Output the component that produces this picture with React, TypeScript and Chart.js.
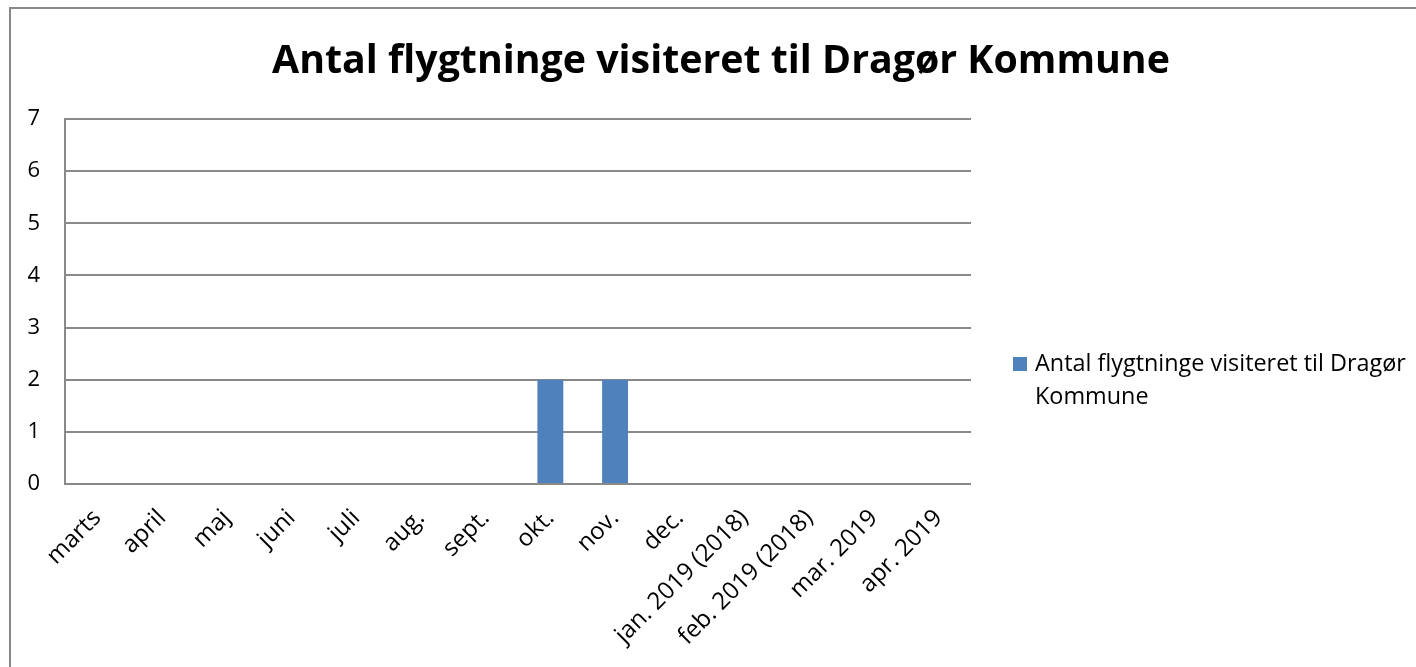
import React, { useEffect, useRef } from "react";
import { Chart, registerables } from "chart.js";

Chart.register(...registerables);

const title = "Antal flygtninge visiteret til Dragør Kommune";
const seriesName = "Antal flygtninge visiteret til Dragør Kommune";
const legendLines = ["Antal flygtninge visiteret til Dragør", "Kommune"];
const categories = [
  "marts", "april", "maj", "juni", "juli", "aug.", "sept.", "okt.", "nov.", "dec.",
  "jan. 2019 (2018)", "feb. 2019 (2018)", "mar. 2019", "apr. 2019",
];
const values = [0, 0, 0, 0, 0, 0, 0, 2, 2, 0, 0, 0, 0, 0];
const yTicks = [0, 1, 2, 3, 4, 5, 6, 7];

const BAR = "#4f81bd";
const GRID = "#898989";
const FONT = "'Open Sans', 'DejaVu Sans', sans-serif";

const decorPlugin = {
  id: "decor",
  beforeDraw(chart: any) {
    const ctx = chart.ctx;
    ctx.save();
    ctx.fillStyle = "#ffffff";
    ctx.fillRect(0, 0, chart.width, chart.height);
    ctx.strokeStyle = "#888888";
    ctx.lineWidth = 2;
    ctx.strokeRect(10, 8, chart.width + 50, chart.height + 50);
    ctx.restore();
  },
  afterDraw(chart: any) {
    const ctx = chart.ctx;
    const area = chart.chartArea;
    ctx.save();
    // Title
    let size = 44;
    ctx.font = `bold ${size}px ${FONT}`;
    const w = ctx.measureText(title).width;
    size = size * 898 / w;
    ctx.font = `bold ${size}px ${FONT}`;
    ctx.fillStyle = "#000000";
    ctx.textAlign = "center";
    ctx.textBaseline = "alphabetic";
    ctx.fillText(title, 721, 73);
    // Legend
    const lx = area.right + 42;
    ctx.fillStyle = BAR;
    ctx.fillRect(lx, 357, 14, 14);
    let ls = 22;
    ctx.font = `${ls}px ${FONT}`;
    const lw = ctx.measureText(legendLines[0]).width;
    ls = ls * 371 / lw;
    ctx.font = `${ls}px ${FONT}`;
    ctx.fillStyle = "#000000";
    ctx.textAlign = "left";
    ctx.fillText(legendLines[0], lx + 22, 371);
    ctx.fillText(legendLines[1], lx + 22, 404);
    ctx.restore();
  },
};

export default function App() {
  const ref = useRef<HTMLCanvasElement | null>(null);
  useEffect(() => {
    if (!ref.current) return;
    const chart = new Chart(ref.current, {
      type: "bar",
      data: {
        labels: categories,
        datasets: [
          {
            label: seriesName,
            data: values,
            backgroundColor: BAR,
            barPercentage: 0.4,
            categoryPercentage: 1,
          },
        ],
      },
      options: {
        animation: false,
        responsive: false,
        layout: { padding: { top: 119, right: 445, left: 0, bottom: 0 } },
        plugins: {
          legend: { display: false },
          title: { display: false },
          tooltip: { enabled: false },
        },
        scales: {
          x: {
            grid: { display: false, drawTicks: false },
            border: { display: false },
            ticks: {
              color: "#000",
              font: { family: FONT, size: 24 },
              maxRotation: 45,
              minRotation: 45,
              padding: 20,
              autoSkip: false,
            },
            afterFit(scale: any) {
              scale.height = 183;
            },
          },
          y: {
            min: 0,
            max: 7,
            grid: { color: GRID, lineWidth: 2, drawTicks: false },
            border: { display: true, color: GRID, width: 2 },
            ticks: {
              color: "#000",
              font: { family: FONT, size: 22 },
              padding: 25,
              stepSize: 1,
              callback: (v: any) => (yTicks.includes(v) ? String(v) : ""),
            },
            afterFit(scale: any) {
              scale.width = 65;
            },
          },
        },
      },
      plugins: [decorPlugin],
    });
    return () => chart.destroy();
  }, []);
  return (
    <div style={{ position: "absolute", left: 0, top: 0, width: 1416, height: 667 }}>
      <canvas ref={ref} width={1416} height={667} style={{ width: 1416, height: 667, display: "block" }} />
    </div>
  );
}
